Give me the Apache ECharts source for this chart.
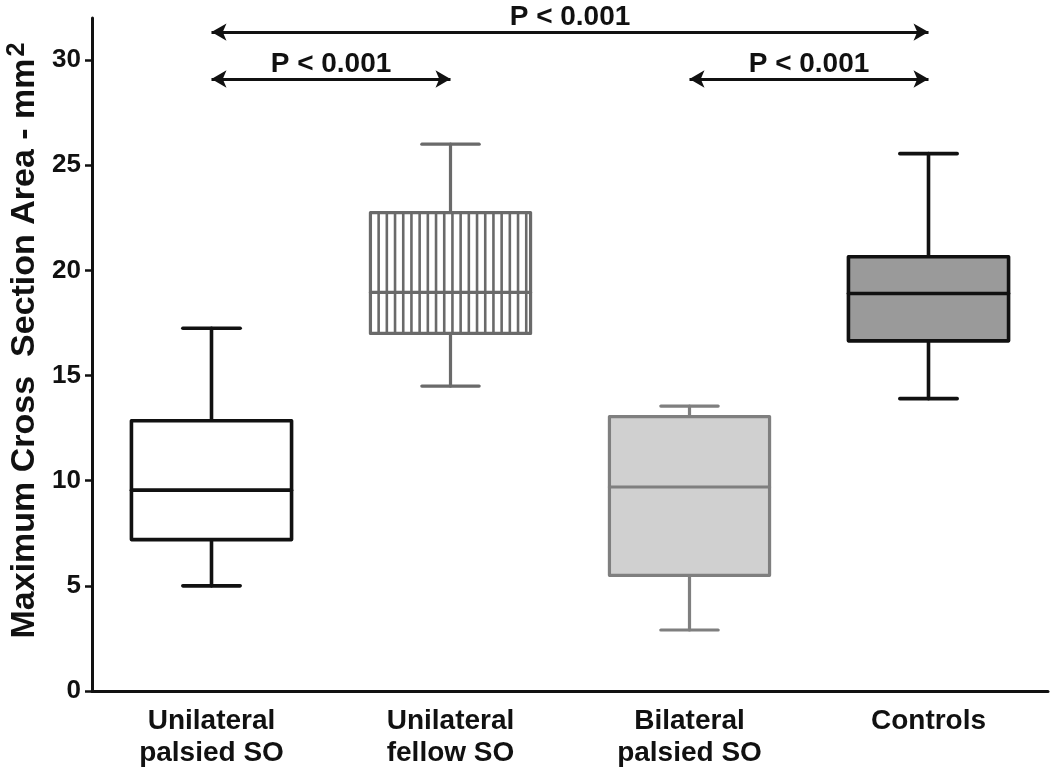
<!DOCTYPE html>
<html>
<head>
<meta charset="utf-8">
<script src="https://cdn.jsdelivr.net/npm/echarts@6/dist/echarts.min.js"></script>
<style>
  html, body { margin: 0; padding: 0; background: #fff; }
  #chart { width: 1050px; height: 769px; }
</style>
</head>
<body>
<div id="chart"></div>
<script>
// données
const categories = ['Unilateral\npalsied SO', 'Unilateral\nfellow SO', 'Bilateral\npalsied SO', 'Controls'];
const whiskerLow = [5.0, 14.5, 2.9, 13.9];
const q1 = [7.2, 17.0, 5.5, 16.65];
const median = [9.55, 18.95, 9.7, 18.9];
const q3 = [12.85, 22.75, 13.05, 20.65];
const whiskerHigh = [17.25, 26.0, 13.55, 25.55];
const yTicks = [0, 5, 10, 15, 20, 25, 30];

// comparaisons (indices de catégories, hauteur de la flèche)
const pairsFrom = [0, 0, 2];
const pairsTo = [3, 1, 3];
const pairsY = [31.33, 29.1, 29.1];
const pairsLabel = ['P < 0.001', 'P < 0.001', 'P < 0.001'];

// styles des boîtes
const strokeColors = ['#111', '#6a6a6a', '#7f7f7f', '#111'];
const fillColors = ['#fff', '#fff', '#d0d0d0', '#9a9a9a'];
const strokeWidths = [3.6, 3.2, 3.2, 3.6];
const hatched = [false, true, false, false];

const FONT = "'Liberation Sans', Arial, sans-serif";

const chart = echarts.init(document.getElementById('chart'));

const boxData = categories.map((c, i) => [i, whiskerLow[i], q1[i], median[i], q3[i], whiskerHigh[i]]);

function renderBox(params, api) {
  const i = api.value(0);
  const pLow = api.coord([i, api.value(1)]);
  const pQ1 = api.coord([i, api.value(2)]);
  const pMed = api.coord([i, api.value(3)]);
  const pQ3 = api.coord([i, api.value(4)]);
  const pHigh = api.coord([i, api.value(5)]);
  const band = api.size([1, 0])[0];
  const bw = band * 0.67;
  const cw = band * 0.24;
  const cx = pMed[0];
  const x0 = cx - bw / 2;
  const stroke = strokeColors[i];
  const lw = strokeWidths[i];
  const line = (xa, ya, xb, yb) => ({
    type: 'line',
    shape: { x1: xa, y1: ya, x2: xb, y2: yb },
    style: { stroke: stroke, lineWidth: lw, lineCap: 'round' }
  });
  const children = [
    line(cx, pHigh[1], cx, pQ3[1]),
    line(cx - cw / 2, pHigh[1], cx + cw / 2, pHigh[1]),
    line(cx, pQ1[1], cx, pLow[1]),
    line(cx - cw / 2, pLow[1], cx + cw / 2, pLow[1]),
    {
      type: 'rect',
      shape: { x: x0, y: pQ3[1], width: bw, height: pQ1[1] - pQ3[1] },
      style: { fill: fillColors[i], stroke: 'none' }
    }
  ];
  if (hatched[i]) {
    const step = 8.2;
    for (let x = x0 + step; x < x0 + bw - 2; x += step) {
      children.push({
        type: 'line',
        shape: { x1: x, y1: pQ3[1], x2: x, y2: pQ1[1] },
        style: { stroke: stroke, lineWidth: 2.6 }
      });
    }
  }
  children.push({
    type: 'rect',
    shape: { x: x0, y: pQ3[1], width: bw, height: pQ1[1] - pQ3[1] },
    style: { fill: 'none', stroke: stroke, lineWidth: lw, lineJoin: 'round' }
  });
  children.push(line(x0, pMed[1], x0 + bw, pMed[1]));
  return { type: 'group', children: children };
}

const markData = pairsFrom.map((f, k) => [
  { coord: [f, pairsY[k]], label: { formatter: pairsLabel[k] } },
  { coord: [pairsTo[k], pairsY[k]] }
]);

const option = {
  animation: false,
  backgroundColor: '#fff',
  grid: { left: 92, right: 2, top: 18, bottom: 78, containLabel: false, outerBoundsMode: 'none' },
  xAxis: {
    type: 'category',
    data: categories,
    axisLine: { lineStyle: { color: '#111', width: 3 } },
    axisTick: { show: false },
    axisLabel: {
      color: '#111', fontFamily: FONT, fontWeight: 'bold', fontSize: 28,
      lineHeight: 32, margin: 14, interval: 0
    },
    splitLine: { show: false }
  },
  yAxis: {
    type: 'value',
    min: 0,
    max: 32,
    name: '{t|Maximum Cross  Section Area - mm}{s|2}',
    nameLocation: 'middle',
    nameGap: 45,
    nameRotate: 90,
    nameTextStyle: {
      padding: [0, 0, 0, 28],
      rich: {
        t: { fontFamily: FONT, fontWeight: 'bold', fontSize: 34, color: '#111' },
        s: { fontFamily: FONT, fontWeight: 'bold', fontSize: 25, color: '#111', verticalAlign: 'top', padding: [0, 0, 14, 2] }
      }
    },
    axisLine: { show: true, lineStyle: { color: '#111', width: 3 } },
    axisTick: { show: true, length: 7, customValues: yTicks, lineStyle: { color: '#111', width: 2.5 } },
    axisLabel: {
      customValues: yTicks,
      color: '#111', fontFamily: FONT, fontWeight: 'bold', fontSize: 26, margin: 11
    },
    splitLine: { show: false }
  },
  series: [
    {
      type: 'custom',
      renderItem: renderBox,
      encode: { x: 0, y: [1, 2, 3, 4, 5] },
      data: boxData,
      z: 2
    },
    {
      type: 'line',
      data: [],
      markLine: {
        silent: true,
        symbol: ['arrow', 'arrow'],
        symbolSize: [13, 15],
        lineStyle: { color: '#111', width: 3, type: 'solid' },
        label: {
          show: true,
          position: 'insideMiddleTop',
          distance: 1,
          color: '#111',
          fontFamily: FONT,
          fontWeight: 'bold',
          fontSize: 28
        },
        data: markData
      }
    }
  ]
};

chart.setOption(option);
</script>
</body>
</html>
